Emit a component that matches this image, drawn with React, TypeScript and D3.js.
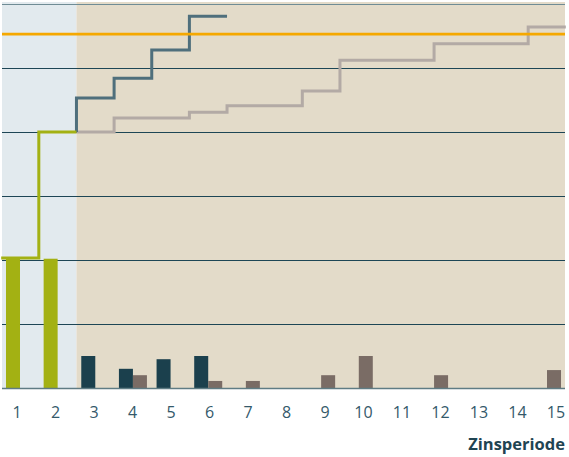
import React, { useEffect, useRef } from 'react';
import * as d3 from 'd3';

// Zinsperioden 1..15
const periods = ['1', '2', '3', '4', '5', '6', '7', '8', '9', '10', '11', '12', '13', '14', '15'];

// Balken: linke Spalte (grün in Periode 1-2, sonst dunkel), rechte Spalte grau
const primaryBars = [2.02, 2.02, 0.5, 0.3, 0.45, 0.5, 0, 0, 0, 0, 0, 0, 0, 0, 0];
const secondaryBars = [0, 0, 0, 0.2, 0, 0.11, 0.11, 0, 0.2, 0.5, 0, 0.2, 0, 0, 0.28];

// Treppenlinien (x in Periodeneinheiten, Stufe jeweils nach dem Punkt)
const greenStepX = [0.5, 1.5, 2.5];
const greenStepY = [2.03, 4, 4];
const darkStepX = [2.5, 2.5, 3.5, 4.5, 5.5, 6.5];
const darkStepY = [4, 4.53, 4.84, 5.28, 5.81, 5.81];
const grayStepX = [2.5, 3.5, 5.5, 6.5, 8.5, 9.5, 12, 14.5, 15.5];
const grayStepY = [4, 4.22, 4.31, 4.41, 4.64, 5.12, 5.38, 5.64, 5.64];

// Referenzlinie (orange)
const referenceLevel = 5.53;

const gridValues = [0, 1, 2, 3, 4, 5, 6];

const W = 569;
const H = 457;

const App: React.FC = () => {
  const svgRef = useRef<SVGSVGElement>(null);

  useEffect(() => {
    if (!svgRef.current) return;
    const svg = d3.select(svgRef.current);
    svg.selectAll('*').remove();

    const left = 2;
    const right = 565;

    const x = d3
      .scaleBand<string>()
      .domain(periods)
      .range([left, right])
      .paddingInner(0.256)
      .paddingOuter(0.106);
    const bw = x.bandwidth();
    const x1 = d3.scaleBand<string>().domain(['a', 'b']).range([0, bw]);

    // kontinuierliche Periodenachse für die Linien (Bandmitten)
    const xc = d3
      .scaleLinear()
      .domain([1, 15])
      .range([x('1')! + bw / 2, x('15')! + bw / 2]);

    const y = d3.scaleLinear().domain([0, 6]).range([388, 4]);

    const labelX = d3.scalePoint<string>().domain(periods).range([17, 556]);

    // Hintergründe
    const split = xc(2.5);
    svg
      .append('rect')
      .attr('x', left)
      .attr('y', y(6) - 2)
      .attr('width', split - left)
      .attr('height', y(0) - y(6) + 2)
      .style('fill', '#e2eaee');
    svg
      .append('rect')
      .attr('x', split)
      .attr('y', y(6) - 2)
      .attr('width', right - split)
      .attr('height', y(0) - y(6) + 2)
      .style('fill', '#e3dbc9');

    // Gitterlinien
    svg
      .selectAll('.grid')
      .data(gridValues.filter((v) => v > 0))
      .enter()
      .append('line')
      .attr('x1', left)
      .attr('x2', right)
      .attr('y1', (d) => Math.round(y(d)) + 0.5)
      .attr('y2', (d) => Math.round(y(d)) + 0.5)
      .style('stroke', (d) => (d === 6 ? '#6f8c95' : '#1d4655'))
      .style('stroke-width', 1.2);

    // Balken
    const barColor = (i: number) => (i < 2 ? '#a3b113' : '#1b404d');
    svg
      .selectAll('.bar-a')
      .data(primaryBars)
      .enter()
      .append('rect')
      .attr('x', (_, i) => x(periods[i])! + x1('a')!)
      .attr('y', (d) => y(d))
      .attr('width', x1.bandwidth())
      .attr('height', (d) => y(0) - y(d))
      .style('fill', (_, i) => barColor(i));
    svg
      .selectAll('.bar-b')
      .data(secondaryBars)
      .enter()
      .append('rect')
      .attr('x', (_, i) => x(periods[i])! + x1('b')!)
      .attr('y', (d) => y(d))
      .attr('width', x1.bandwidth())
      .attr('height', (d) => y(0) - y(d))
      .style('fill', '#7a6c65');

    // Basislinie
    svg
      .append('line')
      .attr('x1', left)
      .attr('x2', right)
      .attr('y1', y(0) + 0.5)
      .attr('y2', y(0) + 0.5)
      .style('stroke', '#5f7c84')
      .style('stroke-width', 1.5);

    // Treppenlinien
    const step = d3
      .line<[number, number]>()
      .x((d) => xc(d[0]))
      .y((d) => y(d[1]))
      .curve(d3.curveStepAfter);
    const drawStep = (xs: number[], ys: number[], color: string) => {
      svg
        .append('path')
        .attr('d', step(xs.map((v, i) => [v, ys[i]] as [number, number])))
        .style('fill', 'none')
        .style('stroke', color)
        .style('stroke-width', 3)
        .style('stroke-linejoin', 'miter');
    };
    drawStep(grayStepX, grayStepY, '#b3aaa5');
    drawStep(darkStepX, darkStepY, '#4f6f7c');
    drawStep(greenStepX, greenStepY, '#a3b113');

    // Referenzlinie
    svg
      .append('line')
      .attr('x1', left)
      .attr('x2', right)
      .attr('y1', y(referenceLevel))
      .attr('y2', y(referenceLevel))
      .style('stroke', '#f5a800')
      .style('stroke-width', 2.8);

    // Achsenbeschriftung
    svg
      .selectAll('.tick-label')
      .data(periods)
      .enter()
      .append('text')
      .attr('x', (d) => labelX(d)!)
      .attr('y', 418)
      .attr('text-anchor', 'middle')
      .style('font-family', '"Open Sans", sans-serif')
      .style('font-size', '16px')
      .style('fill', '#34596a')
      .text((d) => d);

    svg
      .append('text')
      .attr('x', right)
      .attr('y', 450)
      .attr('text-anchor', 'end')
      .style('font-family', '"Open Sans", sans-serif')
      .style('font-size', '16.5px')
      .style('font-weight', 700)
      .style('fill', '#1f4452')
      .text('Zinsperiode');
  }, []);

  return (
    <svg
      ref={svgRef}
      width={W}
      height={H}
      style={{ position: 'absolute', left: 0, top: 0, background: '#fff' }}
    />
  );
};

export default App;
